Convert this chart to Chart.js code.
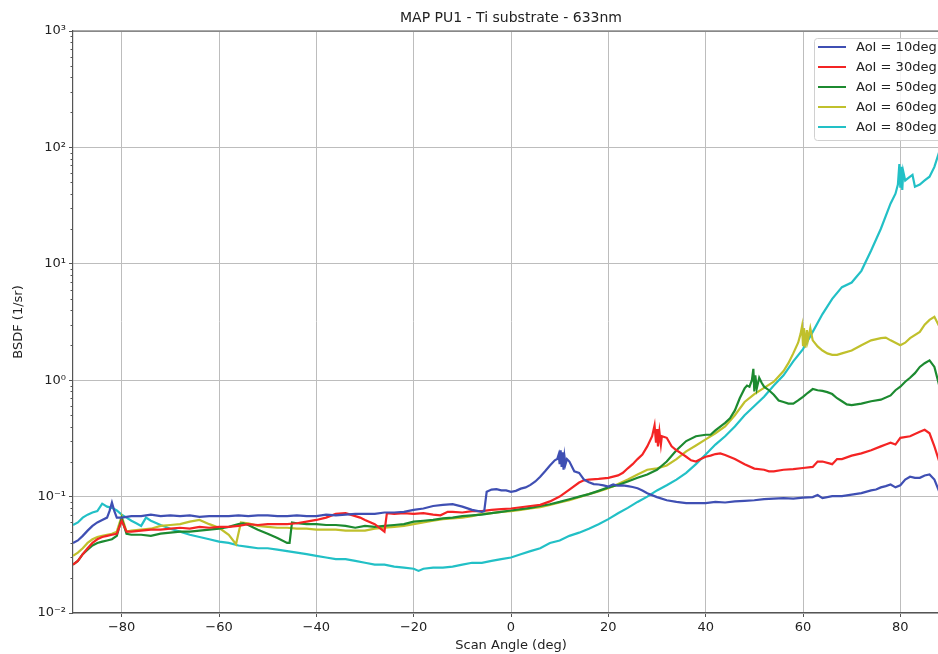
<!DOCTYPE html>
<html lang="en">

<head>
    <meta charset="UTF-8">
    <title>MAP PU1 - Ti substrate - 633nm</title>
    <script src="https://cdn.jsdelivr.net/npm/chart.js"></script>
</head>
<style>
    html, body {
        margin: 0;
        padding: 0;
        overflow: hidden;
        background: #fff;
    }

    .chart-container {
        width: 960px;
        height: 654px;
    }
</style>

<body>
    <div class="chart-container">
        <canvas id="bsdfChart" width="960" height="654"></canvas>
    </div>
    <script>
        // AoI = 10deg
        const aoi10Angle = [-90, -89, -88, -87, -86, -85, -84, -83, -82.5, -82, -81.5, -81, -80, -78, -76, -74, -72, -70, -68, -66, -64, -62, -60, -58, -56, -54, -52, -50, -48, -46, -44, -42, -40, -38, -36, -34, -32, -30, -28, -26, -24, -22, -20, -18, -16, -14, -12, -10, -8, -6, -5.5, -5, -4, -3, -2, -1, 0, 1, 2, 3, 4, 5, 6, 7, 8, 9, 9.5, 9.8, 10, 10.2, 10.4, 10.6, 10.8, 11, 11.2, 11.5, 12, 13, 14, 15, 16, 17, 18, 19, 20, 21, 22, 23, 24, 25, 26, 27, 28, 30, 32, 34, 36, 38, 40, 42, 44, 46, 48, 50, 52, 54, 56, 58, 60, 62, 63, 64, 66, 68, 70, 72, 74, 75, 76, 77, 78, 79, 80, 81, 82, 83, 84, 85, 86, 87, 88, 89];
        const aoi10Bsdf = [0.040, 0.042, 0.046, 0.051, 0.056, 0.060, 0.063, 0.066, 0.075, 0.089, 0.075, 0.066, 0.066, 0.068, 0.068, 0.070, 0.068, 0.069, 0.068, 0.069, 0.067, 0.068, 0.068, 0.068, 0.069, 0.068, 0.069, 0.069, 0.068, 0.068, 0.069, 0.068, 0.068, 0.070, 0.069, 0.070, 0.071, 0.071, 0.071, 0.073, 0.073, 0.074, 0.077, 0.079, 0.083, 0.085, 0.086, 0.082, 0.077, 0.074, 0.075, 0.110, 0.115, 0.116, 0.113, 0.113, 0.110, 0.112, 0.117, 0.120, 0.126, 0.135, 0.148, 0.165, 0.185, 0.205, 0.21, 0.23, 0.19, 0.25, 0.18, 0.24, 0.17, 0.22, 0.19, 0.21, 0.20, 0.165, 0.16, 0.14, 0.133, 0.128, 0.127, 0.125, 0.122, 0.127, 0.124, 0.125, 0.123, 0.121, 0.118, 0.113, 0.107, 0.099, 0.093, 0.090, 0.088, 0.088, 0.088, 0.090, 0.089, 0.091, 0.092, 0.093, 0.095, 0.096, 0.097, 0.096, 0.098, 0.099, 0.103, 0.097, 0.101, 0.101, 0.104, 0.107, 0.113, 0.115, 0.120, 0.123, 0.127, 0.120, 0.125, 0.140, 0.148, 0.145, 0.145, 0.152, 0.155, 0.140, 0.110, 0.095];

        // AoI = 30deg
        const aoi30Angle = [-90, -89, -88, -87, -86, -85, -84, -83, -82, -81, -80, -79, -78, -76, -74, -72, -70, -68, -66, -64, -62, -60, -58, -56, -54, -52, -50, -48, -46, -44, -42, -40, -38, -36, -34, -33, -32, -31, -30, -28, -26, -25.5, -24, -22, -20, -18, -16, -14.5, -13, -12, -10, -8, -6, -4, -2, 0, 2, 4, 6, 8, 10, 12, 14, 15, 16, 18, 20, 22, 23, 24, 25, 26, 27, 28, 29, 29.5, 29.8, 30, 30.2, 30.5, 30.8, 31, 32, 33, 34, 35, 36, 37, 38, 39, 40, 41, 42, 43, 44, 46, 48, 50, 52, 53, 54, 56, 58, 60, 62, 63, 64, 66, 67, 68, 70, 72, 74, 76, 77, 78, 79, 80, 82, 84, 85, 86, 87, 88, 89];
        const aoi30Bsdf = [0.026, 0.028, 0.032, 0.036, 0.040, 0.043, 0.045, 0.046, 0.047, 0.048, 0.062, 0.050, 0.050, 0.051, 0.052, 0.052, 0.053, 0.054, 0.053, 0.055, 0.054, 0.055, 0.055, 0.056, 0.058, 0.057, 0.058, 0.058, 0.058, 0.059, 0.061, 0.063, 0.066, 0.071, 0.072, 0.070, 0.068, 0.066, 0.063, 0.058, 0.050, 0.072, 0.071, 0.072, 0.071, 0.072, 0.070, 0.069, 0.074, 0.074, 0.073, 0.075, 0.075, 0.077, 0.078, 0.079, 0.081, 0.083, 0.085, 0.091, 0.100, 0.115, 0.132, 0.138, 0.140, 0.142, 0.145, 0.152, 0.160, 0.175, 0.190, 0.210, 0.230, 0.270, 0.330, 0.410, 0.290, 0.380, 0.270, 0.360, 0.280, 0.330, 0.320, 0.270, 0.250, 0.235, 0.220, 0.205, 0.200, 0.210, 0.220, 0.225, 0.232, 0.235, 0.228, 0.210, 0.190, 0.174, 0.170, 0.165, 0.165, 0.170, 0.172, 0.176, 0.180, 0.200, 0.200, 0.190, 0.210, 0.210, 0.225, 0.235, 0.250, 0.270, 0.280, 0.290, 0.280, 0.320, 0.330, 0.360, 0.375, 0.350, 0.270, 0.200, 0.170];

        // AoI = 50deg
        const aoi50Angle = [-90, -89, -88, -87, -86, -85, -84, -83, -82, -81, -80, -79, -78, -76, -74, -72, -70, -68, -66, -64, -62, -60, -58, -56, -55, -54, -52, -50, -48, -46, -45.5, -45, -44, -42, -40, -38, -36, -34, -32, -30, -28, -26, -24, -22, -20, -18, -16, -14, -12, -10, -8, -6, -4, -2, 0, 2, 4, 6, 8, 10, 12, 14, 16, 18, 20, 22, 24, 26, 28, 30, 32, 34, 36, 38, 40, 41, 42, 43, 44, 45, 46, 47, 48, 48.5, 49, 49.5, 49.8, 50, 50.2, 50.5, 51, 51.5, 52, 53, 54, 55, 56, 57, 58, 59, 60, 61, 62, 63, 64, 65, 66, 67, 68, 69, 70, 71, 72, 74, 76, 78, 79, 80, 81, 82, 83, 84, 85, 86, 87, 88, 89];
        const aoi50Bsdf = [0.026, 0.028, 0.032, 0.035, 0.038, 0.040, 0.041, 0.042, 0.043, 0.046, 0.065, 0.048, 0.047, 0.047, 0.046, 0.048, 0.049, 0.050, 0.050, 0.051, 0.052, 0.053, 0.055, 0.058, 0.059, 0.057, 0.052, 0.048, 0.044, 0.040, 0.040, 0.060, 0.059, 0.058, 0.058, 0.057, 0.057, 0.056, 0.054, 0.056, 0.055, 0.056, 0.057, 0.058, 0.061, 0.062, 0.063, 0.065, 0.066, 0.068, 0.069, 0.070, 0.072, 0.074, 0.076, 0.078, 0.080, 0.083, 0.086, 0.090, 0.095, 0.100, 0.105, 0.112, 0.120, 0.126, 0.135, 0.145, 0.155, 0.170, 0.200, 0.250, 0.300, 0.330, 0.340, 0.340, 0.370, 0.400, 0.430, 0.470, 0.550, 0.700, 0.850, 0.900, 0.880, 1.000, 1.250, 0.800, 1.100, 0.850, 1.050, 0.950, 0.880, 0.820, 0.750, 0.670, 0.650, 0.630, 0.630, 0.670, 0.720, 0.780, 0.840, 0.820, 0.810, 0.790, 0.760, 0.700, 0.660, 0.620, 0.610, 0.620, 0.630, 0.660, 0.680, 0.740, 0.820, 0.880, 0.970, 1.050, 1.150, 1.300, 1.400, 1.480, 1.300, 0.900, 0.750];

        // AoI = 60deg
        const aoi60Angle = [-90, -89, -88, -87, -86, -85, -84, -83, -82, -81, -80, -79, -78, -76, -74, -72, -70, -68, -66, -64, -62, -60, -58, -56.5, -55.5, -54, -52, -50, -48, -46, -44, -42, -40, -38, -36, -34, -32, -30, -28, -26, -24, -22, -20, -18, -16, -14, -12, -10, -8, -6, -4, -2, 0, 2, 4, 6, 8, 10, 12, 14, 16, 18, 20, 22, 24, 26, 28, 30, 32, 34, 36, 38, 40, 42, 44, 46, 48, 50, 52, 54, 56, 57, 58, 59, 59.5, 59.8, 60, 60.2, 60.5, 60.8, 61, 61.5, 62, 63, 64, 65, 66, 67, 68, 70, 72, 74, 76, 77, 78, 80, 81, 82, 84, 85, 86, 87, 88, 89];
        const aoi60Bsdf = [0.031, 0.033, 0.036, 0.040, 0.043, 0.045, 0.046, 0.047, 0.048, 0.050, 0.068, 0.050, 0.051, 0.052, 0.053, 0.056, 0.057, 0.058, 0.061, 0.063, 0.058, 0.054, 0.047, 0.039, 0.060, 0.059, 0.056, 0.055, 0.054, 0.054, 0.053, 0.053, 0.052, 0.052, 0.052, 0.051, 0.051, 0.051, 0.053, 0.054, 0.055, 0.056, 0.058, 0.060, 0.062, 0.064, 0.065, 0.066, 0.068, 0.071, 0.072, 0.074, 0.075, 0.077, 0.079, 0.081, 0.085, 0.089, 0.093, 0.099, 0.105, 0.111, 0.118, 0.128, 0.140, 0.155, 0.170, 0.175, 0.185, 0.210, 0.245, 0.275, 0.310, 0.350, 0.400, 0.500, 0.650, 0.760, 0.860, 0.970, 1.200, 1.400, 1.700, 2.100, 2.500, 2.900, 2.000, 2.800, 1.900, 2.700, 2.200, 2.800, 2.200, 1.950, 1.800, 1.700, 1.650, 1.650, 1.700, 1.800, 2.000, 2.200, 2.300, 2.320, 2.200, 2.000, 2.100, 2.300, 2.600, 3.000, 3.300, 3.500, 2.900, 2.600];

        // AoI = 80deg
        const aoi80Angle = [-90, -89, -88, -87, -86, -85, -84, -83, -82, -81, -80, -79, -78, -77, -76, -75, -74, -72, -70, -68, -66, -64, -62, -60, -58, -56, -54, -52, -50, -48, -46, -44, -42, -40, -38, -36, -34, -32, -30, -28, -26, -24, -22, -20, -19, -18, -16, -14, -12, -10, -8, -6, -4, -2, 0, 2, 4, 6, 8, 10, 12, 14, 16, 18, 20, 22, 24, 26, 28, 30, 32, 34, 36, 38, 40, 42, 44, 46, 48, 50, 52, 54, 56, 58, 60, 62, 64, 66, 68, 70, 72, 74, 76, 78, 79, 79.5, 79.8, 80, 80.2, 80.4, 80.6, 81, 82, 82.5, 83, 84, 85, 86, 87, 88, 89];
        const aoi80Bsdf = [0.057, 0.060, 0.066, 0.070, 0.073, 0.075, 0.087, 0.082, 0.080, 0.076, 0.070, 0.066, 0.062, 0.059, 0.056, 0.066, 0.062, 0.057, 0.053, 0.050, 0.047, 0.045, 0.043, 0.041, 0.040, 0.038, 0.037, 0.036, 0.036, 0.035, 0.034, 0.033, 0.032, 0.031, 0.030, 0.029, 0.029, 0.028, 0.027, 0.026, 0.026, 0.025, 0.0245, 0.024, 0.023, 0.024, 0.0245, 0.0245, 0.025, 0.026, 0.027, 0.027, 0.028, 0.029, 0.030, 0.032, 0.034, 0.036, 0.040, 0.042, 0.046, 0.049, 0.053, 0.058, 0.064, 0.072, 0.080, 0.090, 0.100, 0.113, 0.125, 0.140, 0.160, 0.190, 0.230, 0.280, 0.330, 0.400, 0.500, 0.600, 0.720, 0.900, 1.100, 1.450, 1.850, 2.600, 3.700, 5.000, 6.300, 6.900, 8.700, 13, 20, 33, 40, 48, 72, 45, 68, 43, 62, 52, 56, 58, 46, 48, 52, 56, 68, 92, 110];

        const seriesLabels = ['AoI = 10deg', 'AoI = 30deg', 'AoI = 50deg', 'AoI = 60deg', 'AoI = 80deg'];
        const seriesColors = ['#3f4fb3', '#f42424', '#1c8a30', '#c0c02c', '#22c0c6'];
        const xTicks = [-80, -60, -40, -20, 0, 20, 40, 60, 80];
        const yExponents = [-2, -1, 0, 1, 2, 3];

        const supDigits = { '-': '\u207B', '0': '\u2070', '1': '\u00B9', '2': '\u00B2', '3': '\u00B3', '4': '\u2074', '5': '\u2075', '6': '\u2076', '7': '\u2077', '8': '\u2078', '9': '\u2079' };

        function isDecade(v) {
            const l = Math.log10(v);
            return Math.abs(l - Math.round(l)) < 1e-6;
        }

        function decadeLabel(v) {
            if (!isDecade(v)) return '';
            const e = String(Math.round(Math.log10(v)));
            return '10' + e.split('').map(c => supDigits[c]).join('');
        }

        function toPoints(xs, ys) {
            return xs.map((x, i) => ({ x: x, y: ys[i] }));
        }

        const FONT = 'DejaVu Sans';

        // title, top spine, minor ticks and legend box
        const decorPlugin = {
            id: 'decor',
            afterDraw(chart) {
                const ctx = chart.ctx;
                const area = chart.chartArea;
                const yScale = chart.scales.y;
                ctx.save();

                ctx.strokeStyle = '#555';
                ctx.lineWidth = 1.2;
                ctx.beginPath();
                ctx.moveTo(area.left, area.top);
                ctx.lineTo(area.right, area.top);
                ctx.stroke();

                ctx.lineWidth = 1;
                ctx.beginPath();
                yScale.ticks.forEach(t => {
                    if (isDecade(t.value)) return;
                    const py = Math.round(yScale.getPixelForValue(t.value)) + 0.5;
                    ctx.moveTo(area.left - 2.5, py);
                    ctx.lineTo(area.left, py);
                });
                ctx.stroke();

                ctx.fillStyle = '#222';
                ctx.font = '14px "' + FONT + '"';
                ctx.textAlign = 'center';
                ctx.textBaseline = 'middle';
                ctx.fillText('MAP PU1 - Ti substrate - 633nm', (area.left + area.right) / 2, 18);

                // legend
                const bx = 814, by = 38, bw = 130, bh = 102;
                ctx.fillStyle = 'rgba(255,255,255,0.85)';
                ctx.strokeStyle = '#d0d0d0';
                ctx.lineWidth = 1;
                ctx.beginPath();
                ctx.roundRect(bx + 0.5, by + 0.5, bw, bh, 3);
                ctx.fill();
                ctx.stroke();
                ctx.font = '13px "' + FONT + '"';
                ctx.textAlign = 'left';
                chart.data.datasets.forEach((ds, i) => {
                    const ly = by + 9 + i * 20;
                    ctx.strokeStyle = ds.borderColor;
                    ctx.lineWidth = 2;
                    ctx.beginPath();
                    ctx.moveTo(818, ly);
                    ctx.lineTo(846, ly);
                    ctx.stroke();
                    ctx.fillStyle = '#222';
                    ctx.fillText(ds.label, 856, ly + 1);
                });
                ctx.restore();
            }
        };

        const pointSets = [
            toPoints(aoi10Angle, aoi10Bsdf),
            toPoints(aoi30Angle, aoi30Bsdf),
            toPoints(aoi50Angle, aoi50Bsdf),
            toPoints(aoi60Angle, aoi60Bsdf),
            toPoints(aoi80Angle, aoi80Bsdf)
        ];

        new Chart(document.getElementById('bsdfChart'), {
            type: 'line',
            data: {
                datasets: pointSets.map((pts, i) => ({
                    label: seriesLabels[i],
                    data: pts,
                    borderColor: seriesColors[i],
                    backgroundColor: seriesColors[i],
                    borderWidth: 2.2,
                    pointRadius: 0,
                    fill: false,
                    tension: 0
                }))
            },
            options: {
                responsive: false,
                animation: false,
                layout: { padding: { top: 31, right: 11, left: 0, bottom: 0 } },
                plugins: {
                    legend: { display: false },
                    title: { display: false },
                    tooltip: { enabled: false }
                },
                scales: {
                    x: {
                        type: 'linear',
                        min: -90,
                        max: 90,
                        afterBuildTicks: axis => { axis.ticks = xTicks.map(v => ({ value: v })); },
                        afterFit: axis => { axis.height = 41; },
                        ticks: {
                            color: '#222',
                            font: { family: FONT, size: 13 },
                            padding: 3,
                            maxRotation: 0,
                            autoSkip: false,
                            callback: v => (v < 0 ? '\u2212' + Math.abs(v) : String(v))
                        },
                        grid: { color: '#bdbdbd', lineWidth: 1, tickColor: '#555', tickLength: 4 },
                        border: { display: true, color: '#555', width: 1.2 },
                        title: {
                            display: true,
                            text: 'Scan Angle (deg)',
                            color: '#222',
                            font: { family: FONT, size: 13 },
                            padding: { top: 0, bottom: 1 }
                        }
                    },
                    y: {
                        type: 'logarithmic',
                        min: 0.01,
                        max: 1000,
                        afterBuildTicks: axis => {
                            const t = [];
                            yExponents.forEach(e => {
                                const m = e === 3 ? [1] : [1, 2, 3, 4, 5, 6, 7, 8, 9];
                                m.forEach(k => t.push({ value: parseFloat((k * Math.pow(10, e)).toPrecision(6)) }));
                            });
                            axis.ticks = t;
                        },
                        afterFit: axis => { axis.width = 73; },
                        ticks: {
                            color: '#222',
                            font: { family: FONT, size: 13 },
                            padding: 3,
                            autoSkip: false,
                            callback: v => decadeLabel(v)
                        },
                        grid: {
                            color: c => (c.tick && isDecade(c.tick.value) ? '#bdbdbd' : 'rgba(0,0,0,0)'),
                            tickColor: c => (c.tick && isDecade(c.tick.value) ? '#555' : 'rgba(0,0,0,0)'),
                            lineWidth: 1,
                            tickLength: 4
                        },
                        border: { display: true, color: '#555', width: 1.2 },
                        title: {
                            display: true,
                            text: 'BSDF (1/sr)',
                            color: '#222',
                            font: { family: FONT, size: 13 },
                            padding: { top: 11, bottom: 0 }
                        }
                    }
                }
            },
            plugins: [decorPlugin]
        });
    </script>
</body>

</html>
